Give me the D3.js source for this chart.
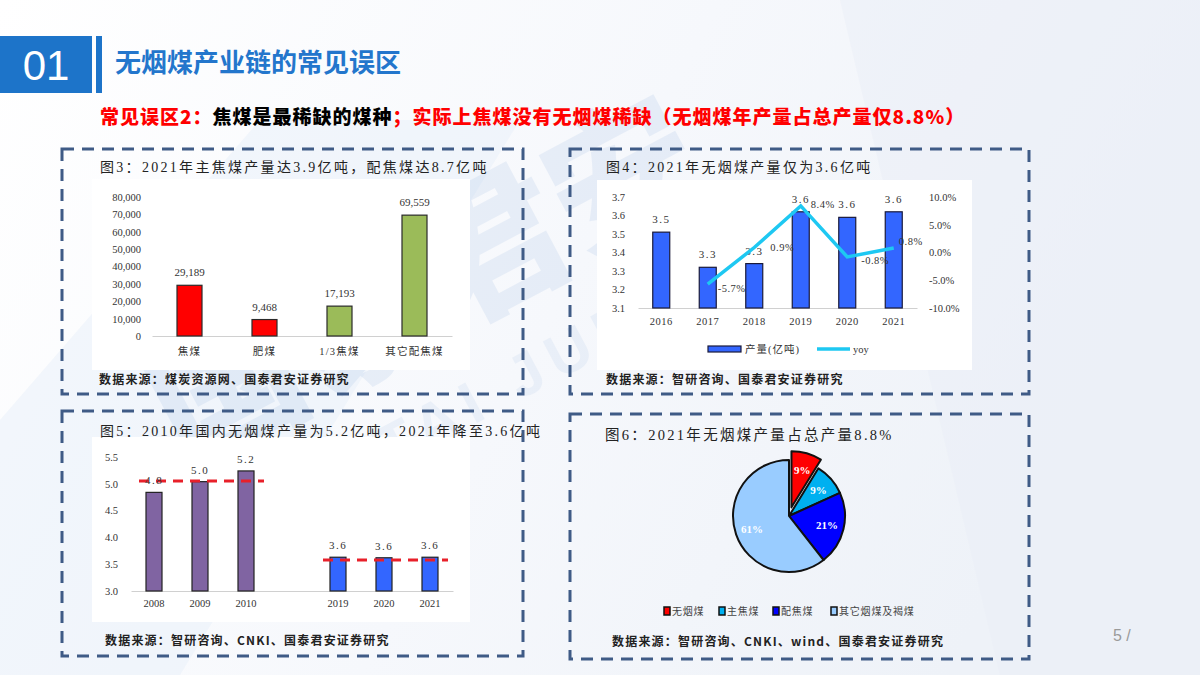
<!DOCTYPE html>
<html><head><meta charset="utf-8">
<script src="https://cdn.jsdelivr.net/npm/d3@7"></script>
<style>
html,body{margin:0;padding:0;width:1200px;height:675px;overflow:hidden;background:#fff;}
svg{display:block;}
</style></head><body>
<svg id="c" width="1200" height="675"></svg>
<script>
// ---------- DATA ----------
const fig3Categories = ['焦煤','肥煤','1/3焦煤','其它配焦煤'];
const fig3Values = [29189, 9468, 17193, 69559];
const fig3Colors = ['#ff0000','#ff0000','#9bbb59','#9bbb59'];
const fig3Ticks = [0,10000,20000,30000,40000,50000,60000,70000,80000];

const fig4Years = ['2016','2017','2018','2019','2020','2021'];
const fig4Output = [3.51,3.32,3.34,3.62,3.59,3.62];
const fig4Yoy = [null,-5.7,0.9,8.4,-0.8,0.8];
const fig4LeftTicks = [3.1,3.2,3.3,3.4,3.5,3.6,3.7];
const fig4RightTicks = [-10,-5,0,5,10];

const fig5Years = ['2008','2009','2010','','2019','2020','2021'];
const fig5Output = [4.84,5.04,5.24,null,3.63,3.62,3.63];
const fig5Colors = ['#8064a2','#8064a2','#8064a2',null,'#3366ff','#3366ff','#3366ff'];
const fig5Ticks = [3.0,3.5,4.0,4.5,5.0,5.5];
const fig5RefLevels = [5.05, 3.58];
const fig5RefGroups = [['2008','2010'],['2019','2021']];

const fig6Labels = ['无烟煤','主焦煤','配焦煤','其它烟煤及褐煤'];
const fig6Values = [8.8, 9.4, 21.2, 60.6];
const fig6Colors = ['#ff0000','#00b0f0','#0000ff','#99ccff'];

// ---------- SETUP ----------
const svg = d3.select('#c');
const SERIF = '"Liberation Serif","Noto Sans CJK SC",serif';
const CJK = '"Noto Sans CJK SC","Liberation Serif",sans-serif';

// background
const defs = svg.append('defs');
const bg = defs.append('linearGradient').attr('id','bg').attr('x1','0').attr('y1','0').attr('x2','1').attr('y2','0.3');
bg.append('stop').attr('offset','0').attr('stop-color','#ffffff');
bg.append('stop').attr('offset','0.55').attr('stop-color','#f6f8fc');
bg.append('stop').attr('offset','1').attr('stop-color','#eef2f8');
svg.append('rect').attr('width',1200).attr('height',675).attr('fill','url(#bg)');
svg.append('path').attr('d','M840,0 L1200,0 L1200,675 L1000,675 Z').attr('fill','#e9eef6').attr('opacity',0.45);
svg.append('path').attr('d','M0,420 L260,120 L520,120 L180,675 L0,675 Z').attr('fill','#eaf1fa').attr('opacity',0.55);

// watermark
const wm = svg.append('g').attr('transform','translate(450,330) rotate(-28)');
wm.append('text').attr('text-anchor','middle').attr('font-family',CJK).attr('font-weight',900)
  .attr('font-size',150).attr('fill','#2f6fc0').attr('opacity',0.08).text('国泰君安');
wm.append('text').attr('y',95).attr('text-anchor','middle').attr('font-family','"Liberation Sans",sans-serif').attr('font-weight',700)
  .attr('font-size',60).attr('fill','#2f6fc0').attr('opacity',0.06).attr('letter-spacing',10).text('GUOTAI JUNAN');

// header
svg.append('rect').attr('x',0).attr('y',36).attr('width',92).attr('height',57).attr('fill','#1d74c9');
svg.append('rect').attr('x',96).attr('y',36).attr('width',6).attr('height',57).attr('fill','#1d74c9');
svg.append('text').attr('x',46).attr('y',80).attr('text-anchor','middle').attr('fill','#fff')
  .attr('font-family','"Liberation Sans",Arial,sans-serif').attr('font-size',42).text('01');
svg.append('text').attr('x',115).attr('y',72).attr('fill','#2376cc').attr('font-family',CJK)
  .attr('font-weight',700).attr('font-size',26).text('无烟煤产业链的常见误区');

const sub = svg.append('text').attr('x',100).attr('y',124).attr('font-family',CJK)
  .attr('font-weight',900).attr('font-size',19).attr('letter-spacing',1);
sub.append('tspan').attr('fill','#ff0000').text('常见误区2：');
sub.append('tspan').attr('fill','#000').text('焦煤是最稀缺的煤种');
sub.append('tspan').attr('fill','#ff0000').text('；实际上焦煤没有无烟煤稀缺（无烟煤年产量占总产量仅8.8%）');

// panels
function panel(x0,y0,x1,y1){
  svg.append('rect').attr('x',x0).attr('y',y0).attr('width',x1-x0).attr('height',y1-y0)
    .attr('fill','none').attr('stroke','#3f5b86').attr('stroke-width',3).attr('stroke-dasharray','12,8');
}
function whiteBox(x0,y0,x1,y1){
  svg.append('rect').attr('x',x0).attr('y',y0).attr('width',x1-x0).attr('height',y1-y0).attr('fill','#fff');
}
function title(x,y,t,fs,ls){
  svg.append('text').attr('x',x).attr('y',y).attr('font-family',SERIF).attr('font-size',fs||14)
    .attr('letter-spacing',ls==null?2.3:ls).attr('fill','#222').text(t);
}
function source(x,y,t){
  svg.append('text').attr('x',x).attr('y',y).attr('font-family',CJK).attr('font-weight',700).attr('font-size',12)
    .attr('letter-spacing',1.2).attr('fill','#222').text(t);
}
function styleAxis(g){
  g.selectAll('text').attr('font-family',SERIF).attr('fill','#333');
}

// ===== Figure 3 =====
whiteBox(92,179,470,370);
title(100,172,'图3：2021年主焦煤产量达3.9亿吨，配焦煤达8.7亿吨');
{
  const x = d3.scaleBand().domain(fig3Categories).range([152,452]);
  const y = d3.scaleLinear().domain([0,80000]).range([336,197]);
  const bw = 25;
  const ya = svg.append('g').attr('transform','translate(141,0)')
    .call(d3.axisLeft(y).tickValues(fig3Ticks).tickFormat(d3.format(',')).tickSize(0).tickPadding(0));
  ya.select('.domain').remove(); ya.selectAll('text').attr('font-size',10.5); styleAxis(ya);
  const xa = svg.append('g').attr('transform','translate(0,336)')
    .call(d3.axisBottom(x).tickSize(0).tickSizeOuter(0).tickPadding(12));
  xa.select('.domain').attr('stroke','#d0d0d0'); xa.selectAll('text').attr('font-size',10.5).attr('letter-spacing',1.2); styleAxis(xa);
  svg.append('g').selectAll('rect').data(fig3Values).join('rect')
    .attr('x',(d,i)=>x(fig3Categories[i])+x.bandwidth()/2-bw/2).attr('y',d=>y(d))
    .attr('width',bw).attr('height',d=>y(0)-y(d))
    .attr('fill',(d,i)=>fig3Colors[i]).attr('stroke','#2a2a2a').attr('stroke-width',1.2);
  svg.append('g').selectAll('text').data(fig3Values).join('text')
    .attr('x',(d,i)=>x(fig3Categories[i])+x.bandwidth()/2).attr('y',d=>y(d)-9)
    .attr('text-anchor','middle').attr('font-family',SERIF).attr('font-size',11).attr('fill','#333')
    .text(d3.format(','));
}
source(99,384,'数据来源：煤炭资源网、国泰君安证券研究');
panel(62,149,523,394);

// ===== Figure 4 =====
whiteBox(597,180,972,370);
title(606,172,'图4：2021年无烟煤产量仅为3.6亿吨');
{
  const x = d3.scaleBand().domain(fig4Years).range([638,917]);
  const yL = d3.scaleLinear().domain([3.1,3.7]).range([308,197]);
  const yR = d3.scaleLinear().domain([-10,10]).range([308,197]);
  const bw = 17;
  const cx = d => x(d)+x.bandwidth()/2;
  const la = svg.append('g').attr('transform','translate(625,0)')
    .call(d3.axisLeft(yL).tickValues(fig4LeftTicks).tickFormat(d3.format('.1f')).tickSize(0).tickPadding(0));
  la.select('.domain').remove(); la.selectAll('text').attr('font-size',10.5); styleAxis(la);
  const ra = svg.append('g').attr('transform','translate(929,0)')
    .call(d3.axisRight(yR).tickValues(fig4RightTicks).tickFormat(d=>d.toFixed(1)+'%').tickSize(0).tickPadding(0));
  ra.select('.domain').remove(); ra.selectAll('text').attr('font-size',10.5); styleAxis(ra);
  const xa = svg.append('g').attr('transform','translate(0,308)')
    .call(d3.axisBottom(x).tickSize(0).tickSizeOuter(0).tickPadding(10));
  xa.select('.domain').attr('stroke','#d0d0d0'); xa.selectAll('text').attr('font-size',10.5).attr('letter-spacing',0.5); styleAxis(xa);
  svg.append('g').selectAll('rect').data(fig4Output).join('rect')
    .attr('x',(d,i)=>cx(fig4Years[i])-bw/2).attr('y',d=>yL(d))
    .attr('width',bw).attr('height',d=>yL(3.1)-yL(d))
    .attr('fill','#3366ff').attr('stroke','#1a1a3a').attr('stroke-width',1.2);
  svg.append('g').selectAll('text').data(fig4Output).join('text')
    .attr('x',(d,i)=>cx(fig4Years[i])).attr('y',d=>yL(d)-9)
    .attr('text-anchor','middle').attr('font-family',SERIF).attr('font-size',11).attr('letter-spacing',1.5).attr('fill','#333')
    .text(d3.format('.1f'));
  const line = d3.line().defined(d=>d!=null).x((d,i)=>cx(fig4Years[i])).y(d=>yR(d));
  svg.append('path').datum(fig4Yoy).attr('d',line).attr('fill','none')
    .attr('stroke','#1ec8f2').attr('stroke-width',3.5).attr('stroke-linejoin','miter');
  const yoyDx = [0,10,16,10,14,5];
  const yoyDy = [0,8,3,2,7,-3];
  const yoyPts = fig4Yoy.map((v,i)=>({v,i})).filter(d=>d.v!=null);
  svg.append('g').selectAll('text').data(yoyPts).join('text')
    .attr('x',d=>cx(fig4Years[d.i])+yoyDx[d.i]).attr('y',d=>yR(d.v)+yoyDy[d.i])
    .attr('font-family',SERIF).attr('font-size',10.5).attr('letter-spacing',0.5).attr('fill','#333')
    .text(d=>d.v.toFixed(1)+'%');
  // legend
  svg.append('rect').attr('x',708).attr('y',346).attr('width',33).attr('height',6).attr('fill','#3366ff').attr('stroke','#1a1a3a').attr('stroke-width',1.2);
  svg.append('text').attr('x',745).attr('y',353).attr('font-family',SERIF).attr('font-size',10.5).attr('letter-spacing',1).attr('fill','#333').text('产量(亿吨)');
  svg.append('line').attr('x1',817).attr('x2',850).attr('y1',349).attr('y2',349).attr('stroke','#1ec8f2').attr('stroke-width',3.5);
  svg.append('text').attr('x',853).attr('y',353).attr('font-family',SERIF).attr('font-size',10.5).attr('fill','#333').text('yoy');
}
source(606,384,'数据来源：智研咨询、国泰君安证券研究');
panel(570,149,1029,394);

// ===== Figure 5 =====
whiteBox(92,437,470,622);
title(100,436,'图5：2010年国内无烟煤产量为5.2亿吨，2021年降至3.6亿吨');
{
  const x = d3.scaleBand().domain(fig5Years).range([131,453]);
  const y = d3.scaleLinear().domain([3.0,5.5]).range([591,457]);
  const bw = 16;
  const cx = d => x(d)+x.bandwidth()/2;
  const ya = svg.append('g').attr('transform','translate(118,0)')
    .call(d3.axisLeft(y).tickValues(fig5Ticks).tickFormat(d3.format('.1f')).tickSize(0).tickPadding(0));
  ya.select('.domain').remove(); ya.selectAll('text').attr('font-size',10.5); styleAxis(ya);
  const xa = svg.append('g').attr('transform','translate(0,591)')
    .call(d3.axisBottom(x).tickSize(0).tickSizeOuter(0).tickPadding(9));
  xa.select('.domain').attr('stroke','#d0d0d0'); xa.selectAll('text').attr('font-size',10.5); styleAxis(xa);
  const pts = fig5Output.map((v,i)=>({v, year:fig5Years[i], color:fig5Colors[i]})).filter(d=>d.v!=null);
  svg.append('g').selectAll('rect').data(pts).join('rect')
    .attr('x',d=>cx(d.year)-bw/2).attr('y',d=>y(d.v))
    .attr('width',bw).attr('height',d=>y(3.0)-y(d.v))
    .attr('fill',d=>d.color).attr('stroke','#222').attr('stroke-width',1.2);
  fig5RefLevels.forEach((lv,k)=>{
    svg.append('line').attr('x1',cx(fig5RefGroups[k][0])-15).attr('x2',cx(fig5RefGroups[k][1])+18)
      .attr('y1',y(lv)).attr('y2',y(lv)).attr('stroke','#e8202a').attr('stroke-width',3).attr('stroke-dasharray','10,7');
  });
  svg.append('g').selectAll('text').data(pts).join('text')
    .attr('x',d=>cx(d.year)).attr('y',d=>y(d.v)-8)
    .attr('text-anchor','middle').attr('font-family',SERIF).attr('font-size',11).attr('letter-spacing',1.5).attr('fill','#333')
    .text(d=>d3.format('.1f')(Math.floor(d.v*10)/10));
}
source(105,645,'数据来源：智研咨询、CNKI、国泰君安证券研究');
panel(62,411,523,656);

// ===== Figure 6 =====
title(605,440,'图6：2021年无烟煤产量占总产量8.8%',14.5,2.3);
{
  const cxp = 789, cyp = 516, R = 56;
  const pie = d3.pie().sort(null).value(d=>d);
  const arcs = pie(fig6Values);
  const arc = d3.arc().innerRadius(0).outerRadius(R);
  const lab = d3.arc().innerRadius(R*0.55).outerRadius(R*0.85);
  const g = svg.append('g').attr('transform',`translate(${cxp},${cyp})`);
  const off = (d,i) => {
    if(i!==0) return [0,0];
    const a = (d.startAngle+d.endAngle)/2;
    return [Math.sin(a)*9, -Math.cos(a)*9];
  };
  g.selectAll('path').data(arcs).join('path')
    .attr('d',arc).attr('transform',(d,i)=>`translate(${off(d,i)})`)
    .attr('fill',(d,i)=>fig6Colors[i]).attr('stroke','#111').attr('stroke-width',2).attr('stroke-linejoin','round');
  g.selectAll('text').data(arcs).join('text')
    .attr('transform',(d,i)=>{const c=lab.centroid(d);const o=off(d,i);return `translate(${c[0]+o[0]},${c[1]+o[1]+4})`;})
    .attr('text-anchor','middle').attr('font-family',SERIF).attr('font-weight',700).attr('font-size',11).attr('fill','#fff')
    .text(d=>Math.round(d.value)+'%');
  // legend
  const lx = [664,719,773,831];
  const lg = svg.append('g');
  fig6Labels.forEach((t,i)=>{
    lg.append('rect').attr('x',lx[i]).attr('y',607).attr('width',6).attr('height',8)
      .attr('fill',fig6Colors[i]).attr('stroke','#111').attr('stroke-width',1.5);
    lg.append('text').attr('x',lx[i]+8).attr('y',615).attr('font-family',SERIF).attr('font-size',10).attr('letter-spacing',0.8).attr('fill','#444').text(t);
  });
}
source(612,646,'数据来源：智研咨询、CNKI、wind、国泰君安证券研究');
panel(570,414,1029,659);

// page number
svg.append('text').attr('x',1113).attr('y',641).attr('font-family','"Liberation Sans",sans-serif').attr('font-size',16).attr('fill','#9a9a9a').text('5 /');
</script>
</body></html>
